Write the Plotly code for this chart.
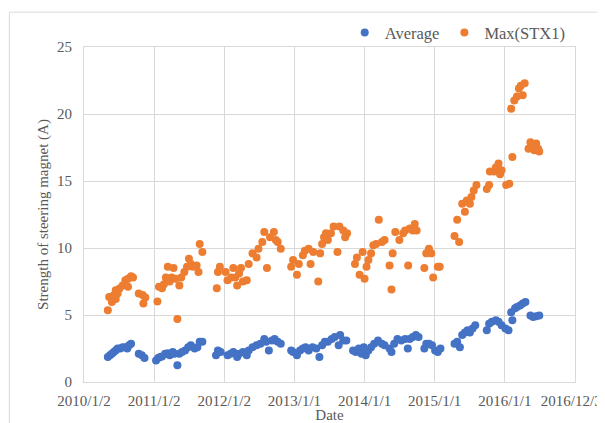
import pandas as pd
import plotly.graph_objects as go

# Days since 2010/1/2 (first tick) and current values
start = '2010-01-02'

avg_day = [124, 135, 145, 155, 165, 175, 189, 201, 215, 225, 235, 245, 285, 301, 315,
           375, 386, 396, 406, 422, 436, 446, 462, 470, 486, 496, 510, 526, 542, 556, 576, 590, 602, 616,
           687, 697, 711, 747, 763, 777, 797, 807, 827, 847, 857, 877, 898, 918, 938, 948, 962, 978, 992, 1008, 1024,
           1078, 1088, 1108, 1124, 1139, 1153, 1169, 1189, 1209, 1225, 1239, 1253, 1269, 1289, 1305, 1325, 1333, 1349, 1365,
           1400, 1414, 1430, 1444, 1456, 1466, 1480, 1494, 1510, 1530, 1550, 1564, 1590, 1600, 1614, 1631, 1651, 1671,
           1685, 1695, 1711, 1727, 1741,
           1771, 1781, 1795, 1811, 1827, 1841, 1855,
           1928, 1942, 1956, 1968, 1982, 1996, 2008, 2022, 2036, 2096, 2108, 2122, 2143, 2157, 2173,
           2193, 2209, 2223, 2229, 2243, 2253, 2269, 2283, 2297, 2323, 2337, 2353, 2369]
avg_val = [1.87, 2.0, 2.1, 2.24, 2.36, 2.5, 2.5, 2.6, 2.6, 2.5, 2.74, 2.86, 2.1, 2.0, 1.8,
           1.6, 1.8, 1.87, 1.9, 2.1, 2.15, 2.0, 2.24, 2.1, 1.25, 2.1, 2.24, 2.36, 2.6, 2.74, 2.5, 2.6, 3.0, 3.0,
           2.0, 2.36, 2.24, 2.0, 2.1, 2.24, 1.87, 2.1, 2.24, 2.0, 2.36, 2.6, 2.74, 2.86, 3.2, 3.0, 2.36, 3.1, 3.2, 3.0, 2.86,
           2.36, 2.24, 2.0, 2.36, 2.5, 2.6, 2.36, 2.6, 2.5, 1.87, 2.74, 3.0, 3.0, 3.2, 3.36, 2.74, 3.5, 3.1, 3.1,
           2.36, 2.24, 2.5, 2.1, 2.6, 2.0, 2.36, 2.6, 2.86, 3.1, 2.86, 2.74, 2.5, 2.24, 2.86, 3.2, 3.1, 3.2,
           2.5, 3.2, 3.36, 3.5, 3.36,
           2.5, 2.86, 2.86, 2.74, 2.36, 2.24, 2.5,
           2.86, 3.0, 2.6, 3.5, 3.7, 3.86, 3.7, 4.0, 4.23, 3.86, 4.35, 4.5, 4.6, 4.5, 4.23,
           4.0, 3.86, 5.2, 4.6, 5.5, 5.6, 5.7, 5.85, 5.97, 4.97, 4.85, 4.9, 4.97]

max_day = [124, 131, 145, 155, 165, 175, 165, 185, 201, 215, 229, 245, 229, 255, 285, 305, 309, 319,
           382, 390, 406, 416, 426, 436, 446, 456, 466, 476, 486, 496, 506, 522, 536, 546, 556, 566, 586, 596, 602, 616,
           691, 697, 707, 737, 747, 767, 777, 787, 797, 807, 817, 827, 847, 857, 877, 898, 908, 928, 938, 952, 968,
           988, 998, 1008, 1024,
           1078, 1088, 1108, 1118, 1139, 1149, 1169, 1179, 1193, 1219, 1229, 1239, 1249, 1259, 1269, 1285, 1299, 1319,
           1329, 1349, 1359, 1369,
           1410, 1420, 1434, 1450, 1460, 1470, 1480, 1494, 1506, 1520, 1534, 1550, 1564, 1590, 1600, 1606, 1620, 1641,
           1661, 1671, 1687, 1695, 1711, 1721, 1731,
           1771, 1781, 1795, 1807, 1817, 1841, 1851,
           1928, 1942, 1952, 1968, 1982, 1992, 2008, 2016, 2028, 2042, 2096, 2108, 2112, 2133, 2143, 2157, 2165, 2173,
           2197, 2213, 2229, 2223, 2239, 2253, 2263, 2273, 2283, 2293, 2313, 2323, 2333, 2343, 2353, 2363, 2369]
max_val = [5.35, 6.34, 5.97, 6.47, 6.84, 6.6, 6.2, 6.97, 7.2, 7.6, 7.7, 7.9, 7.1, 7.8, 6.6, 6.5, 5.85, 6.3,
           6.0, 7.1, 7.0, 7.3, 7.8, 8.6, 7.5, 7.8, 8.5, 7.7, 4.7, 7.2, 7.8, 8.2, 8.6, 9.2, 8.8, 8.6, 8.7, 8.2, 10.3, 9.7,
           7.0, 8.2, 8.6, 8.2, 7.6, 7.8, 8.5, 7.8, 7.2, 8.1, 8.5, 7.5, 7.6, 8.8, 9.6, 9.3, 9.95, 10.45, 11.2, 8.5, 10.8,
           11.2, 10.6, 10.45, 9.95,
           8.6, 9.1, 8.0, 8.8, 9.45, 9.8, 9.95, 8.8, 9.7, 7.5, 9.6, 10.3, 10.8, 11.1, 10.6, 11.1, 11.6, 9.7,
           11.6, 11.3, 10.8, 11.1,
           8.8, 9.3, 8.0, 9.7, 7.7, 8.6, 9.1, 9.6, 10.2, 10.3, 12.1, 10.45, 10.6, 8.7, 6.9, 9.6, 11.2, 10.6,
           11.1, 11.3, 8.7, 11.45, 11.3, 11.8, 11.3,
           8.5, 9.6, 9.95, 9.6, 7.8, 8.6, 8.6,
           10.9, 12.1, 10.45, 13.3, 12.7, 13.55, 13.3, 13.8, 14.3, 14.7, 14.4, 14.7, 15.7, 15.7, 16.0, 16.3, 15.5, 15.8,
           14.7, 14.8, 16.8, 20.4, 21.0, 21.3, 21.9, 22.1, 21.4, 22.3, 17.4, 17.9, 17.5, 17.3, 17.8, 17.4, 17.2]

tick_dates = ['2010-01-02', '2011-01-02', '2012-01-02', '2013-01-01',
              '2014-01-01', '2015-01-01', '2016-01-01', '2016-12-31']
tick_labels = ['2010/1/2', '2011/1/2', '2012/1/2', '2013/1/1',
               '2014/1/1', '2015/1/1', '2016/1/1', '2016/12/31']

avg_x = pd.to_datetime(avg_day, unit='D', origin=start)
max_x = pd.to_datetime(max_day, unit='D', origin=start)

font = 'Liberation Serif, Times New Roman, serif'
grey = '#595959'
grid = '#d9d9d9'

fig = go.Figure()
fig.add_trace(go.Scatter(x=avg_x, y=avg_val, mode='markers', name='Average',
                         marker=dict(color='#4472C4', size=8)))
fig.add_trace(go.Scatter(x=max_x, y=max_val, mode='markers', name='Max(STX1)',
                         marker=dict(color='#ED7D31', size=8)))

# page body adds an 8px offset, so the figure is 8px smaller than the window
fig.update_layout(
    width=597, height=415,
    margin=dict(l=76, r=30, t=39, b=41, autoexpand=False),
    paper_bgcolor='white', plot_bgcolor='white',
    font=dict(family=font, color=grey, size=15),
    legend=dict(orientation='h', x=0.531, y=0.99, xanchor='left', yanchor='bottom',
                font=dict(size=16.5), itemwidth=30, tracegroupgap=0,
                bgcolor='rgba(0,0,0,0)'),
    showlegend=True,
)
fig.update_xaxes(
    type='date', range=[tick_dates[0], tick_dates[-1]],
    tickvals=tick_dates, ticktext=tick_labels, tickangle=0,
    showgrid=True, gridcolor=grid, showline=True, linecolor=grid, mirror=True,
    ticks='', automargin=False, ticklabeloverflow='allow', ticklabelstandoff=5,
    title=dict(text='Date', font=dict(size=15), standoff=12),
)
fig.update_yaxes(
    range=[0, 25], dtick=5, showgrid=True, gridcolor=grid,
    showline=True, linecolor=grid, mirror=True, zeroline=False, ticks='',
    ticklabelstandoff=8, automargin=False,
    title=dict(text='Strength of steering magnet (A)', font=dict(size=15), standoff=4),
)

# light chart-area border like the spreadsheet frame
fig.add_shape(type='rect', xref='paper', yref='paper', x0=-0.152, x1=1.3, y0=-0.3, y1=1.104,
              line=dict(color=grid, width=1), layer='below')

fig.write_html('out.html')
